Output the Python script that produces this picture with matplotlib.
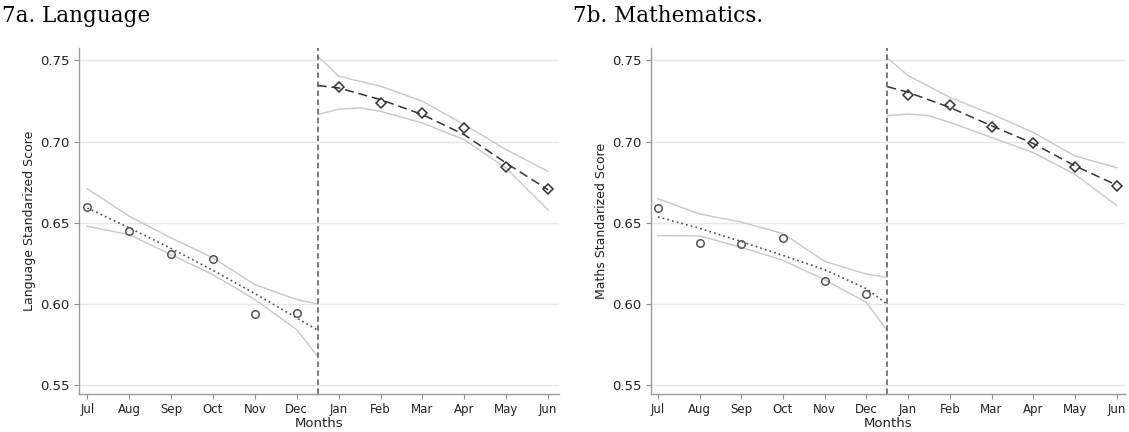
import numpy as np
import matplotlib
matplotlib.use("Agg")
import matplotlib.pyplot as plt

plt.rcParams['font.family'] = ['DejaVu Sans']
plt.rcParams['lines.scale_dashes'] = False

months = ["Jul", "Aug", "Sep", "Oct", "Nov", "Dec", "Jan", "Feb", "Mar", "Apr", "May", "Jun"]
cutoff = 5.5

# monthly mean scores
lang_scores = [0.660, 0.645, 0.631, 0.628, 0.594, 0.5945, 0.7336, 0.7237, 0.7177, 0.7084, 0.6847, 0.671]
maths_scores = [0.659, 0.6376, 0.637, 0.6407, 0.614, 0.606, 0.729, 0.7226, 0.7092, 0.6995, 0.6844, 0.6727]

# fitted values and confidence bands, before and after the cutoff
x_pre = [0, 1, 2, 3, 4, 5, 5.5]
x_post = [5.5, 6, 7, 8, 9, 10, 11]
x_post_lo = [5.5, 6, 6.5, 7, 8, 9, 10, 11]

lang_fit_pre = [0.6592, 0.6470, 0.6343, 0.6208, 0.6065, 0.5915, 0.5840]
lang_hi_pre = [0.6711, 0.6541, 0.6408, 0.6285, 0.6120, 0.6028, 0.6001]
lang_lo_pre = [0.6479, 0.6428, 0.6305, 0.6182, 0.6028, 0.5843, 0.5679]
lang_fit_post = [0.7346, 0.7331, 0.7259, 0.7167, 0.7043, 0.6868, 0.6704]
lang_hi_post = [0.7527, 0.7403, 0.7342, 0.7249, 0.7105, 0.6951, 0.6817]
lang_lo_post = [0.7167, 0.7200, 0.7208, 0.7187, 0.7115, 0.7012, 0.6837, 0.6580]

maths_fit_pre = [0.6537, 0.6467, 0.6385, 0.6300, 0.6212, 0.6095, 0.6000]
maths_hi_pre = [0.6649, 0.6555, 0.6505, 0.6435, 0.6263, 0.6185, 0.6165]
maths_lo_pre = [0.6422, 0.6420, 0.6350, 0.6270, 0.6150, 0.6010, 0.5837]
maths_fit_post = [0.7339, 0.7304, 0.7211, 0.7098, 0.6989, 0.6851, 0.6733]
maths_hi_post = [0.7516, 0.7407, 0.7273, 0.7170, 0.7057, 0.6912, 0.6840]
maths_lo_post = [0.7160, 0.7170, 0.7160, 0.7119, 0.7026, 0.6933, 0.6799, 0.6607]

yticks = [0.55, 0.60, 0.65, 0.70, 0.75]


def draw_panel(ax, scores, fit_pre, hi_pre, lo_pre, fit_post, hi_post, lo_post, ylabel, xlim):
    """
    Regression discontinuity plot: scores by month of birth with fits either side of the cutoff
    """
    band = '#c8c8c8'
    x = np.arange(len(months))

    ax.plot(x_pre, hi_pre, color=band, lw=1.0)
    ax.plot(x_pre, lo_pre, color=band, lw=1.0)
    ax.plot(x_post, hi_post, color=band, lw=1.0)
    ax.plot(x_post_lo, lo_post, color=band, lw=1.0)

    ax.plot(x_pre, fit_pre, color='#555555', lw=1.2, dashes=(1.3, 2.2))
    ax.plot(x_post, fit_post, color='#333333', lw=1.1, dashes=(6.5, 3.5))

    ax.plot(x[:6], scores[:6], 'o', ms=5.4, mfc='none', mec='#555555', mew=1.1)
    ax.plot(x[6:], scores[6:], 'D', ms=5.2, mfc='none', mec='#333333', mew=1.1)

    ax.axvline(cutoff, color='#555555', lw=1.1, dashes=(4, 2.5))

    ax.set_xlim(*xlim)
    ax.set_ylim(0.5445, 0.7575)
    ax.set_xticks(x)
    ax.set_xticklabels(months, fontsize=8.5)
    ax.set_yticks(yticks)
    ax.set_yticklabels([f'{v:.2f}' for v in yticks], fontsize=9.5)
    ax.yaxis.grid(True, color='#e8e8e8', lw=1.0)
    ax.set_axisbelow(True)
    ax.tick_params(direction='out', length=3.6, width=0.8, color='#8a8a8a', pad=3, labelcolor='#222222')
    for side in ['top', 'right']:
        ax.spines[side].set_visible(False)
    for side in ['left', 'bottom']:
        ax.spines[side].set_color('#9a9a9a')
        ax.spines[side].set_linewidth(1.0)
    ax.set_xlabel('Months', fontsize=9.5, color='#222222', labelpad=0.5)
    ax.set_ylabel(ylabel, fontsize=9, color='#222222', labelpad=3)


fig = plt.figure(figsize=(11.29, 4.32), dpi=100)
ax1 = fig.add_axes([0.0697, 0.0873, 0.4254, 0.8009])
ax2 = fig.add_axes([0.5764, 0.0873, 0.4201, 0.8009])

draw_panel(ax1, lang_scores, lang_fit_pre, lang_hi_pre, lang_lo_pre,
           lang_fit_post, lang_hi_post, lang_lo_post,
           'Language Standarized Score', (-0.205, 11.26))
draw_panel(ax2, maths_scores, maths_fit_pre, maths_hi_pre, maths_lo_pre,
           maths_fit_post, maths_hi_post, maths_lo_post,
           'Maths Standarized Score', (-0.17, 11.2))

fig.text(0.0015, 1 - 21.7 / 432, '7a. Language', family='DejaVu Serif', fontsize=15.5, va='baseline')
fig.text(573.3 / 1129, 1 - 22.5 / 432, '7b. Mathematics.', family='DejaVu Serif', fontsize=15.5, va='baseline')

fig.savefig('out.png', dpi=100)
